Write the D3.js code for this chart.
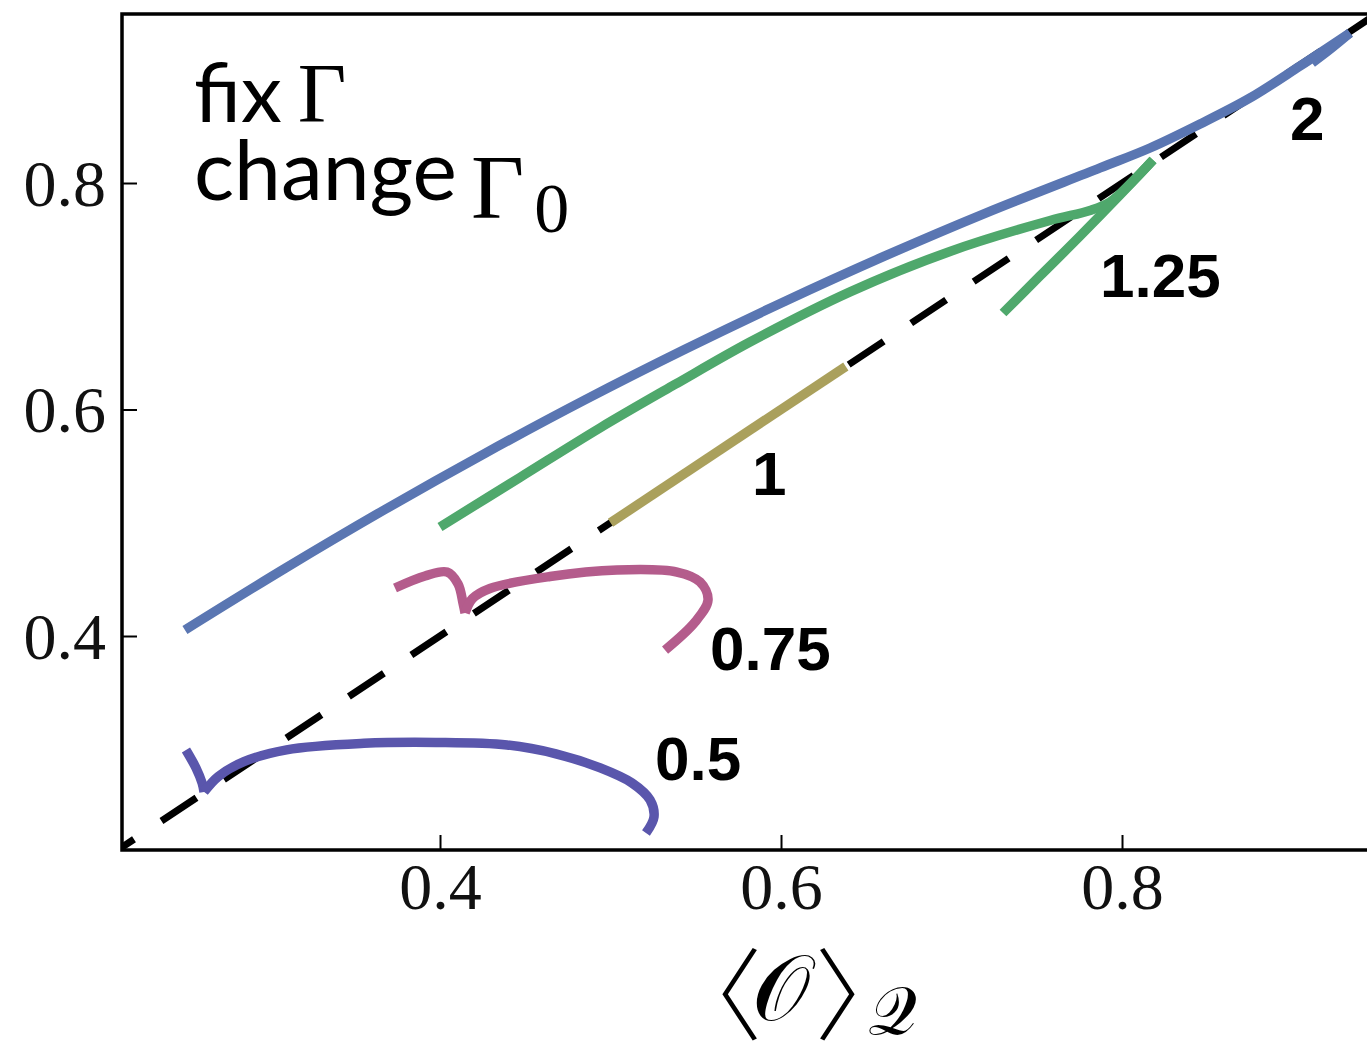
<!DOCTYPE html>
<html>
<head>
<meta charset="utf-8">
<script src="https://cdn.jsdelivr.net/npm/d3@7/dist/d3.min.js"></script>
<style>
  html, body { margin: 0; padding: 0; background: #fff; }
  svg { display: block; }
</style>
</head>
<body>
<svg id="chart" width="1367" height="1044"></svg>
<script>
// Tick values on both axes
const xTickValues = [0.4, 0.6, 0.8];
const yTickValues = [0.4, 0.6, 0.8];

// Curve labels: the value of Γ0 for each family
const gammaLabels = ["2", "1.25", "1", "0.75", "0.5"];

// Anchor (x, y) in data units for each curve label
const labelAnchors = [
  [0.8985, 0.838],
  [0.7871, 0.6993],
  [0.5830, 0.5245],
  [0.5584, 0.370],
  [0.5261, 0.2728]
];

// Γ0 = 2 : main branch and a short return branch at the tip
const curveG2 = [
  [[0.2504, 0.4053], [0.3091, 0.4597], [0.3677, 0.5117], [0.4264, 0.5613],
   [0.4850, 0.6085], [0.5437, 0.6532], [0.6024, 0.6956], [0.6610, 0.7356],
   [0.7197, 0.7732], [0.7871, 0.8133], [0.8164, 0.8309], [0.8458, 0.8521],
   [0.8751, 0.8751], [0.9044, 0.9033], [0.9337, 0.9325]],
  [[0.9337, 0.9325], [0.9220, 0.9180], [0.9115, 0.9060]]
];

// Γ0 = 1.25 : upper branch up to the cusp, lower branch back down
const curveG125 = [
  [[0.4000, 0.4963], [0.4469, 0.5400], [0.4938, 0.5837], [0.5378, 0.6221],
   [0.5818, 0.6596], [0.6405, 0.7039], [0.6991, 0.7396], [0.7578, 0.7669],
   [0.7812, 0.7757], [0.7930, 0.7832], [0.8059, 0.8009], [0.8182, 0.8203]],
  [[0.8182, 0.8203], [0.7988, 0.7894], [0.7754, 0.7532], [0.7519, 0.7179],
   [0.7302, 0.6852]]
];

// Γ0 = 1 : lies on the diagonal
const curveG1 = [
  [[0.5000, 0.5000], [0.6380, 0.6380]]
];

// Γ0 = 0.75 : short hook to the diagonal, then the long arc
const curveG075 = [
  [[0.3736, 0.4424], [0.3912, 0.4530], [0.4041, 0.4565], [0.4106, 0.4460],
   [0.4135, 0.4290], [0.4147, 0.4203]],
  [[0.4147, 0.4203], [0.4190, 0.4330], [0.4293, 0.4420], [0.4645, 0.4525],
   [0.5038, 0.4583], [0.5390, 0.4565], [0.5525, 0.4477], [0.5572, 0.4318],
   [0.5496, 0.4124], [0.5320, 0.3876]]
];

// Γ0 = 0.5 : short hook to the diagonal, then the long arc
const curveG05 = [
  [[0.2510, 0.2993], [0.2569, 0.2834], [0.2605, 0.2700], [0.2616, 0.2623]],
  [[0.2616, 0.2623], [0.2700, 0.2760], [0.2850, 0.2890], [0.3100, 0.2995],
   [0.3554, 0.3052], [0.3977, 0.3060], [0.4393, 0.3038], [0.4680, 0.2960],
   [0.4940, 0.2835], [0.5126, 0.2702], [0.5232, 0.2552], [0.5255, 0.2402],
   [0.5208, 0.2260]]
];

// Reference diagonal y = x
const diagonal = [[0.20, 0.20], [0.96, 0.96]];

const curves = [curveG2, curveG125, curveG1, curveG075, curveG05];
const colors = ["#5a76b2", "#4fa86c", "#aaa05c", "#b45c8c", "#5a56ac"];

// Layout
const plot = { left: 122, top: 14, right: 1372, bottom: 850 };

const x = d3.scaleLinear().domain([0.21349, 0.94662]).range([plot.left, plot.right]);
const y = d3.scaleLinear().domain([0.21104, 0.94923]).range([plot.bottom, plot.top]);

const svg = d3.select("#chart");

svg.append("defs").append("clipPath").attr("id", "plotClip")
  .append("rect")
  .attr("x", plot.left).attr("y", plot.top)
  .attr("width", plot.right - plot.left).attr("height", plot.bottom - plot.top);

const line = d3.line().x(d => x(d[0])).y(d => y(d[1])).curve(d3.curveCatmullRom.alpha(0.5));
const straight = d3.line().x(d => x(d[0])).y(d => y(d[1]));

const area = svg.append("g").attr("clip-path", "url(#plotClip)");

// Dashed diagonal
area.append("path")
  .attr("d", straight(diagonal))
  .attr("fill", "none")
  .attr("stroke", "#000")
  .attr("stroke-width", 7)
  .attr("stroke-dasharray", "42 33");

// Curves
curves.forEach((branches, i) => {
  branches.forEach(b => {
    area.append("path")
      .attr("d", line(b))
      .attr("fill", "none")
      .attr("stroke", colors[i])
      .attr("stroke-width", 9.5)
      .attr("stroke-linecap", "butt")
      .attr("stroke-linejoin", "round");
  });
});

// Axes (ticks point into the frame)
const xAxis = d3.axisBottom(x).tickValues(xTickValues).tickFormat(d3.format(".1f"))
  .tickSizeInner(-15).tickSizeOuter(0).tickPadding(22);
const yAxis = d3.axisLeft(y).tickValues(yTickValues).tickFormat(d3.format(".1f"))
  .tickSizeInner(-15).tickSizeOuter(0).tickPadding(28);

const gx = svg.append("g").attr("transform", `translate(0,${plot.bottom})`).call(xAxis);
const gy = svg.append("g").attr("transform", `translate(${plot.left},0)`).call(yAxis);

[gx, gy].forEach(g => {
  g.select(".domain").remove();
  g.selectAll(".tick line").attr("stroke", "#000").attr("stroke-width", 2);
  g.selectAll(".tick text")
    .attr("font-family", "'Liberation Serif', 'Times New Roman', serif")
    .attr("font-size", 66)
    .attr("fill", "#111");
});
gx.selectAll(".tick text").attr("y", 12).attr("dy", "0.71em");
gy.selectAll(".tick text").attr("x", -16).attr("dy", "0.34em");

// Frame
svg.append("rect")
  .attr("x", plot.left).attr("y", plot.top)
  .attr("width", plot.right - plot.left).attr("height", plot.bottom - plot.top)
  .attr("fill", "none").attr("stroke", "#000").attr("stroke-width", 3.5);

// Curve labels
gammaLabels.forEach((t, i) => {
  svg.append("text")
    .attr("x", x(labelAnchors[i][0]))
    .attr("y", y(labelAnchors[i][1]))
    .attr("font-family", "'Liberation Sans', Arial, sans-serif")
    .attr("font-weight", "bold")
    .attr("font-size", 62)
    .attr("fill", "#000")
    .text(t);
});

// Annotation in the upper-left corner
const note = svg.append("g").attr("fill", "#000");
const t1 = note.append("text").attr("x", 194).attr("y", 122)
  .attr("font-family", "Lato, 'Open Sans', sans-serif").attr("font-size", 82);
t1.append("tspan").text("fix");
t1.append("tspan").attr("dx", 16).attr("font-family", "'Liberation Serif', serif").attr("font-size", 84).text("Γ");

const t2 = note.append("text").attr("x", 194).attr("y", 200)
  .attr("font-family", "Lato, 'Open Sans', sans-serif").attr("font-size", 84);
t2.append("tspan").text("change");
t2.append("tspan").attr("dx", 14).attr("font-family", "'Liberation Serif', serif").attr("font-size", 92).attr("dy", 18).text("Γ");
t2.append("tspan").attr("dx", 10).attr("font-family", "'Liberation Serif', serif").attr("font-size", 70).attr("dy", 14).text("0");

// X-axis title ⟨𝒪⟩_𝒬 (thin angle brackets from the CJK face)
const bracketFont = "'Noto Sans CJK JP', 'Noto Sans CJK SC', sans-serif";
const xt = svg.append("text").attr("fill", "#000")
  .attr("font-family", "'DejaVu Serif', 'Liberation Serif', serif");
xt.append("tspan").attr("x", 662).attr("y", 1032)
  .attr("font-family", bracketFont).attr("font-weight", 300).attr("font-size", 100).text("〈");
xt.append("tspan").attr("x", 752).attr("y", 1020).attr("font-size", 92).text("𝒪");
xt.append("tspan").attr("x", 815).attr("y", 1032)
  .attr("font-family", bracketFont).attr("font-weight", 300).attr("font-size", 100).text("〉");
xt.append("tspan").attr("x", 868).attr("y", 1034).attr("font-size", 68).text("𝒬");
</script>
</body>
</html>
